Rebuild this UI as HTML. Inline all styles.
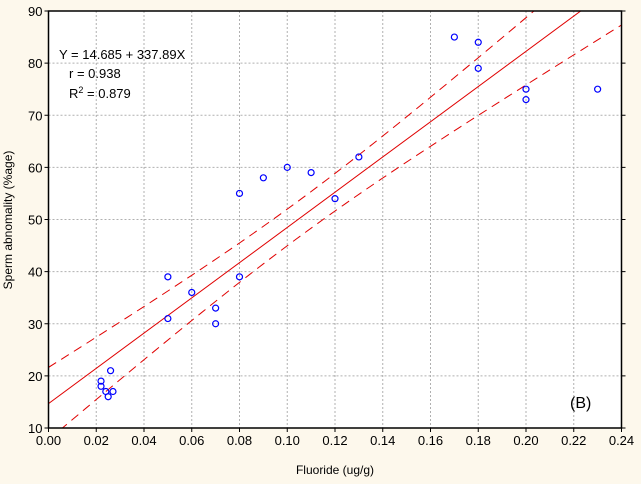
<!DOCTYPE html>
<html><head><meta charset="utf-8"><style>
body{margin:0;background:#fdf8ec;}
svg{display:block;font-family:"Liberation Sans",Arial,sans-serif;}
</style></head><body>
<svg id="c" width="641" height="484">
<rect width="641" height="484" fill="#fdf8ec"/>
<g id="plot"></g>
</svg>
<script>
const xTicks=[0,0.02,0.04,0.06,0.08,0.10,0.12,0.14,0.16,0.18,0.20,0.22,0.24];
const xTickLabels=["0.00","0.02","0.04","0.06","0.08","0.10","0.12","0.14","0.16","0.18","0.20","0.22","0.24"];
const yTicks=[10,20,30,40,50,60,70,80,90];
const fluoride=[0.022,0.022,0.024,0.025,0.026,0.027,0.05,0.05,0.06,0.07,0.07,0.08,0.08,0.09,0.10,0.11,0.12,0.13,0.17,0.18,0.18,0.20,0.20,0.23];
const spermAbn=[19,18,17,16,21,17,39,31,36,33,30,55,39,58,60,59,54,62,85,84,79,75,73,75];
const intercept=14.685, slope=337.89;
const ciA=12.25, ciB=3260, ciCenter=0.105;

const L=48.5,R=621.5,T=11,B=428;
const sx=v=>L+(v-0)/(0.24)*(R-L);
const sy=v=>B-(v-10)/80*(B-T);
const NS="http://www.w3.org/2000/svg";
const svg=document.getElementById('c');
function mk(tag,attrs,parent){const e=document.createElementNS(NS,tag);for(const k in attrs)e.setAttribute(k,attrs[k]);(parent||svg).appendChild(e);return e;}

mk('rect',{x:L,y:T,width:R-L,height:B-T,fill:'#fff'});
const defs=mk('clipPath',{id:'clip'});mk('rect',{x:L,y:T,width:R-L,height:B-T},defs);
xTicks.forEach((v,i)=>{
 if(i>0&&i<xTicks.length-1){const g=mk('line',{x1:sx(v),x2:sx(v),y1:T,y2:B,stroke:'#b0b0b0','stroke-dasharray':'2,2'});
 
 }
 mk('line',{x1:sx(v),x2:sx(v),y1:B,y2:B+4,stroke:'#000'});
 const t=mk('text',{x:sx(v),y:B+17,'text-anchor':'middle','font-size':13});t.textContent=xTickLabels[i];
 
 
});
yTicks.forEach((v,i)=>{
 if(i>0&&i<yTicks.length-1){const g=mk('line',{x1:L,x2:R,y1:sy(v),y2:sy(v),stroke:'#b0b0b0','stroke-dasharray':'2,2'});
 
 }
 mk('line',{x1:L-4,x2:L,y1:sy(v),y2:sy(v),stroke:'#000'});
 mk('line',{x1:R,x2:R+4,y1:sy(v),y2:sy(v),stroke:'#000'});
 const t=mk('text',{x:L-6,y:sy(v)+5,'text-anchor':'end','font-size':13});t.textContent=v;
 
 
});
const g=mk('g',{'clip-path':'url(#clip)'});
const reg=mk('line',{x1:sx(0),y1:sy(intercept),x2:sx(0.24),y2:sy(intercept+slope*0.24),stroke:'#e00000','stroke-width':1},g);


[1,-1].forEach(s=>{let d='';for(let i=0;i<=60;i++){const x=0.24*i/60;const y=intercept+slope*x+s*Math.sqrt(ciA+ciB*(x-ciCenter)**2);d+=(i?'L':'M')+sx(x)+','+sy(y);}
 const p=mk('path',{d:d,fill:'none',stroke:'#e00000','stroke-dasharray':'9,6'},g);
 
 });
fluoride.forEach((x,i)=>{const c=mk('circle',{cx:sx(x),cy:sy(spermAbn[i]),r:3,fill:'none',stroke:'#0000ff','stroke-width':1.2},g);
 
 });
mk('rect',{x:L,y:T,width:R-L,height:B-T,fill:'none',stroke:'#000','stroke-width':1.5});
function txt(x,y,s,name,extra){const t=mk('text',Object.assign({x:x,y:y,'font-size':13},extra||{}));t.innerHTML=s;return t;}
txt(59,59,'Y = 14.685 + 337.89X','regression-equation');
txt(69,78,'r = 0.938','r-value');
txt(69,98,'R<tspan font-size="9" dy="-5">2</tspan><tspan dy="5"> = 0.879</tspan>','r-squared');
txt(570,408,'(B)','panel-label',{'font-size':16});
txt(335,474,'Fluoride (ug/g)','x-axis-title',{'text-anchor':'middle','font-size':12});
txt(0,0,'Sperm abnomality (%age)','y-axis-title',{'text-anchor':'middle','font-size':12,transform:'translate(12,220) rotate(-90)'});
</script>
</body></html>
